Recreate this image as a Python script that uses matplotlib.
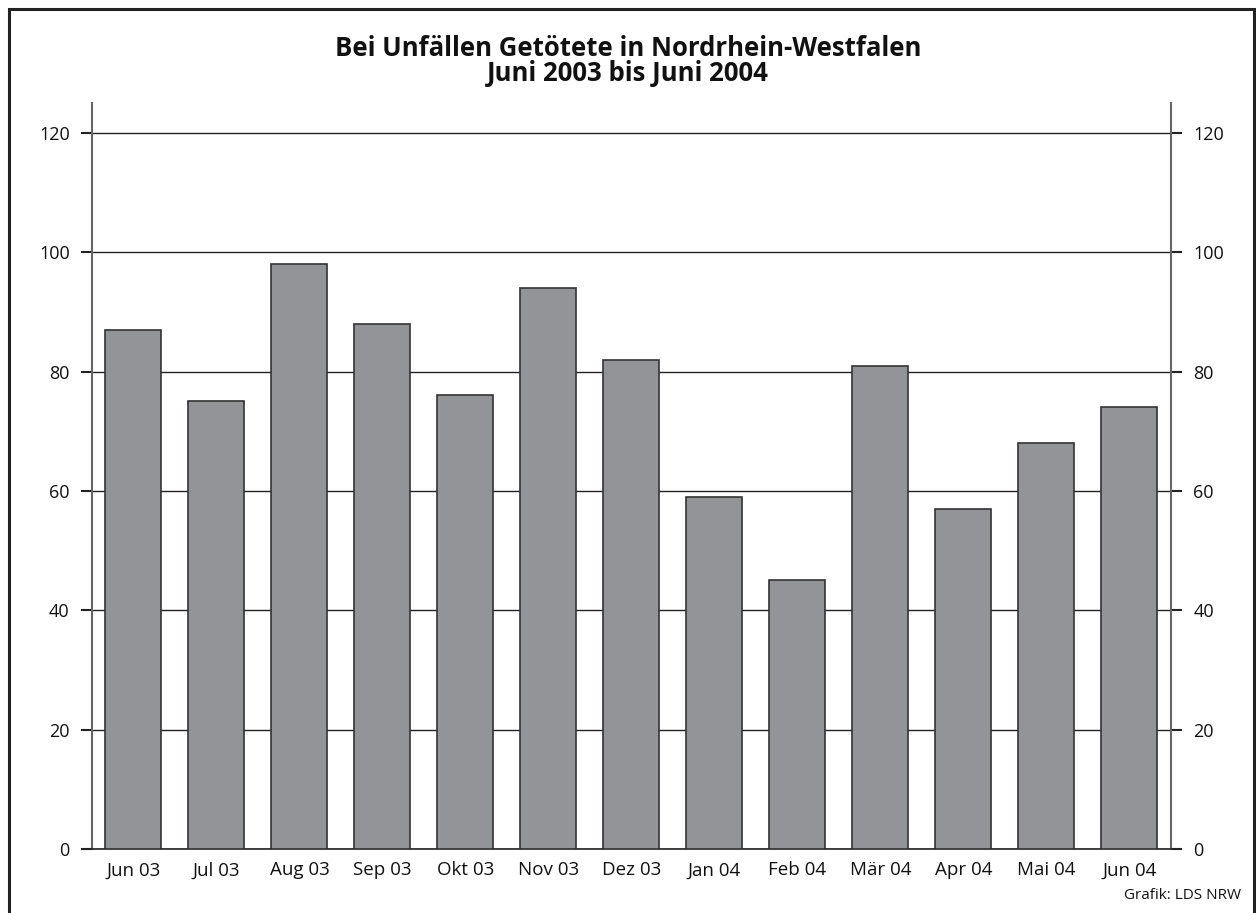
import matplotlib
matplotlib.use('Agg')
import matplotlib.pyplot as plt
from matplotlib.patches import Rectangle

plt.rcParams['font.family'] = ['Open Sans', 'DejaVu Sans']

# monthly values
months = ['Jun 03', 'Jul 03', 'Aug 03', 'Sep 03', 'Okt 03', 'Nov 03', 'Dez 03',
          'Jan 04', 'Feb 04', 'Mär 04', 'Apr 04', 'Mai 04', 'Jun 04']
deaths = [87, 75, 98, 88, 76, 94, 82, 59, 45, 81, 57, 68, 74]
yticks = [0, 20, 40, 60, 80, 100, 120]

fig = plt.figure(figsize=(12.56, 9.13), dpi=100)
ax = fig.add_axes([0.0732, 0.0701, 0.8591, 0.8171])

# gridlines behind the bars
ax.set_axisbelow(True)
ax.yaxis.grid(True, color='#222222', linewidth=1.0)

x = range(len(months))
ax.bar(x, deaths, width=0.675, color='#939498', edgecolor='#333333', linewidth=1.2, zorder=3)

ax.set_xlim(-0.5, len(months) - 0.5)
ax.set_ylim(0, 125)
ax.set_yticks(yticks)
ax.set_xticks(list(x))
ax.set_xticklabels(months)

ax.spines['top'].set_visible(False)
ax.spines['left'].set_color('#666666')
ax.spines['right'].set_color('#666666')
ax.spines['left'].set_linewidth(1.5)
ax.spines['right'].set_linewidth(1.5)
ax.spines['bottom'].set_color('#222222')
ax.spines['bottom'].set_linewidth(1.2)

ax.tick_params(axis='y', left=True, right=True, labelleft=True, labelright=True,
               direction='out', length=8, width=1.5, color='#222222',
               pad=8, labelsize=13, labelcolor='#111111')
ax.tick_params(axis='x', length=0, pad=9, labelsize=13.5, labelcolor='#111111')

fig.text(0.5, 0.947, 'Bei Unfällen Getötete in Nordrhein-Westfalen', ha='center', va='center',
         fontsize=18.5, fontweight='bold', color='#111111')
fig.text(0.5, 0.920, 'Juni 2003 bis Juni 2004', ha='center', va='center',
         fontsize=18.5, fontweight='bold', color='#111111')
fig.text(0.988, 0.019, 'Grafik: LDS NRW', ha='right', va='center', fontsize=11, color='#111111')

# outer frame (bottom edge runs off the image)
frame = Rectangle((9 / 1256, -0.05), (1254 - 9) / 1256, 0.05 + (913 - 9) / 913,
                  transform=fig.transFigure, fill=False, edgecolor='#222222',
                  linewidth=2.2, clip_on=False)
fig.patches.append(frame)

fig.savefig('out.png', dpi=100)
